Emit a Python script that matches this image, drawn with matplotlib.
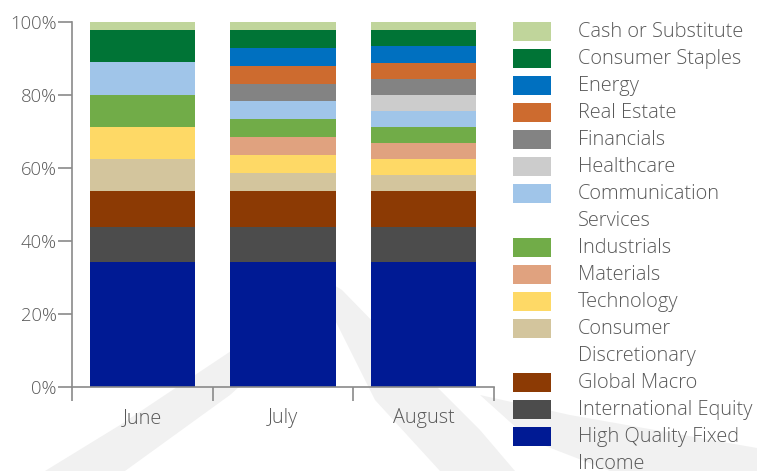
import matplotlib.pyplot as plt
from matplotlib.patches import Rectangle, Polygon
from matplotlib.ticker import FuncFormatter

plt.rcParams['font.family'] = ['Open Sans', 'DejaVu Sans']

months = ['June', 'July', 'August']

# bottom to top
sectors = ['High Quality Fixed Income', 'International Equity', 'Global Macro',
           'Consumer Discretionary', 'Technology', 'Materials', 'Industrials',
           'Communication Services', 'Healthcare', 'Financials', 'Real Estate',
           'Energy', 'Consumer Staples', 'Cash or Substitute']

june = [34.3, 9.4, 10.0, 8.7, 8.8, 0.0, 8.8, 9.0, 0.0, 0.0, 0.0, 0.0, 8.8, 2.2]
july = [34.3, 9.4, 10.0, 4.9, 4.9, 5.0, 4.9, 4.9, 0.0, 4.8, 4.8, 5.0, 4.9, 2.2]
august = [34.3, 9.4, 10.0, 4.3, 4.4, 4.4, 4.4, 4.4, 4.4, 4.4, 4.4, 4.6, 4.4, 2.2]

colors = ['#001a94', '#4c4c4c', '#8c3a04', '#d3c59d', '#fed966', '#e0a27f',
          '#71ac48', '#a0c5e9', '#cccccc', '#838383', '#cd6b2f', '#0070c0',
          '#007436', '#c0d59b']

# legend order (top to bottom), with wrapped text
legend_labels = ['Cash or Substitute', 'Consumer Staples', 'Energy', 'Real Estate',
                 'Financials', 'Healthcare', 'Communication\nServices', 'Industrials',
                 'Materials', 'Technology', 'Consumer\nDiscretionary', 'Global Macro',
                 'International Equity', 'High Quality Fixed\nIncome']

text_color = '#595959'
axis_color = '#8a8a8a'
W, H = 757, 471

fig = plt.figure(figsize=(W / 100, H / 100), dpi=100)

# faint background watermark (rough)
wm = '#f1f1f1'
shapes = [
    [(45, 471), (125, 471), (230, 395), (338, 298), (332, 284), (225, 355), (120, 425)],
    [(332, 284), (342, 290), (420, 370), (480, 430), (515, 471), (440, 471), (375, 400), (335, 320)],
    [(480, 395), (570, 415), (757, 448), (757, 471), (610, 471), (530, 440)],
]
for pts in shapes:
    fig.patches.append(Polygon([(x / W, 1 - y / H) for x, y in pts], closed=True,
                               transform=fig.transFigure, facecolor=wm,
                               edgecolor='none', zorder=-5))

ax = fig.add_axes([72 / W, (H - 387) / H, 422 / W, 365 / H])
ax.patch.set_alpha(0)

x = range(len(months))
bottoms = [0.0, 0.0, 0.0]
for i, name in enumerate(sectors):
    vals = [june[i], july[i], august[i]]
    ax.bar(x, vals, width=0.75, bottom=bottoms, color=colors[i], linewidth=0)
    bottoms = [b + v for b, v in zip(bottoms, vals)]

ax.set_xlim(-0.5, 2.5)
ax.set_ylim(0, 100)

for s in ['top', 'right']:
    ax.spines[s].set_visible(False)
for s in ['left', 'bottom']:
    ax.spines[s].set_color(axis_color)
    ax.spines[s].set_linewidth(1.2)

ax.set_yticks([0, 20, 40, 60, 80, 100])
ax.yaxis.set_major_formatter(FuncFormatter(lambda v, p: f'{v:.0f}%'))
ax.tick_params(axis='y', length=10, width=1.2, color=axis_color, pad=1,
               labelsize=13.3, labelcolor=text_color)

ax.set_xticks([-0.5, 0.5, 1.5, 2.5])
ax.set_xticklabels([])
ax.set_xticks(list(x), minor=True)
ax.set_xticklabels(months, minor=True)
ax.tick_params(axis='x', which='major', length=10, width=1.2, color=axis_color)
ax.tick_params(axis='x', which='minor', length=0, pad=15, labelsize=14.3,
               labelcolor=text_color)
for lbl in ax.get_yticklabels() + ax.get_xticklabels(minor=True):
    lbl.set_fontweight('light')

# legend drawn by hand so wrapped labels line up like the original
row = 0
y0, step = 31.7, 27.0
for lab, c in zip(legend_labels, colors[::-1]):
    yc = y0 + row * step
    fig.patches.append(Rectangle((513 / W, 1 - (yc + 9.5) / H), 38 / W, 19 / H,
                                 transform=fig.transFigure, facecolor=c,
                                 edgecolor='none'))
    for line in lab.split('\n'):
        yc = y0 + row * step
        fig.text(578 / W, 1 - yc / H, line, fontsize=14.4, color=text_color,
                 fontweight='light', va='center', ha='left')
        row += 1

fig.savefig('out.png', dpi=100)
